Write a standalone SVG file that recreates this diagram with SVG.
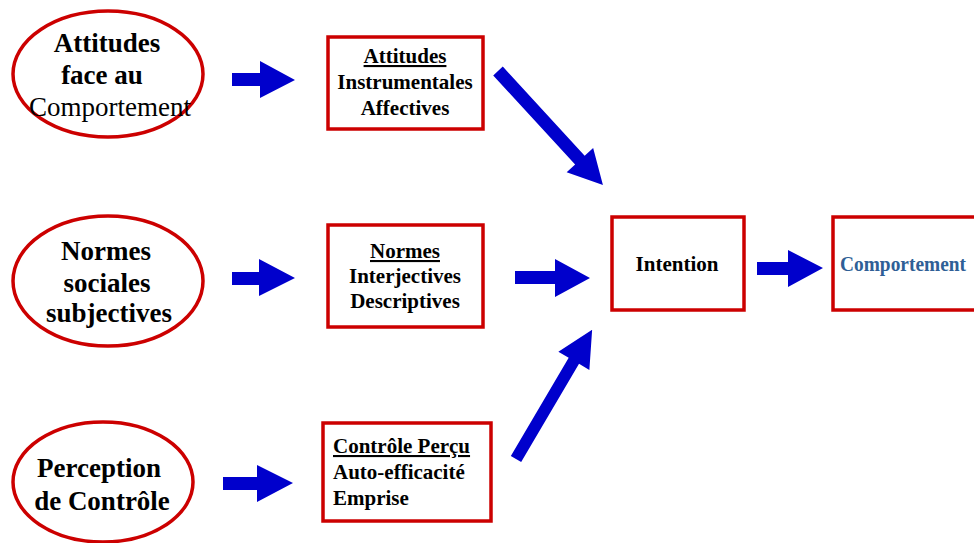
<svg xmlns="http://www.w3.org/2000/svg" width="974" height="543" viewBox="0 0 974 543">
  <style>
    .oval { fill: #ffffff; stroke: #cc0000; stroke-width: 3.5; }
    .box { fill: #ffffff; stroke: #cc0000; stroke-width: 3.5; }
    .big { font-family: "Liberation Serif", "Times New Roman", serif; font-size: 27px; font-weight: bold; fill: #000000; text-anchor: middle; }
    .plain { font-weight: normal; }
    .lbl { font-family: "Liberation Serif", "Times New Roman", serif; font-size: 21px; font-weight: bold; fill: #000000; }
    .mid { text-anchor: middle; }
    .ul { text-decoration: underline; }
    .blue { fill: #2f5f96; }
    .arrow { fill: #0000cc; }
  </style>

  <rect width="974" height="543" fill="#ffffff"/>

  <!-- Source ovals -->
  <g id="oval-attitudes">
    <ellipse class="oval" cx="108" cy="74" rx="95" ry="63"/>
    <text class="big" x="107" y="52">Attitudes</text>
    <text class="big" x="102" y="84">face au</text>
    <text class="big plain" x="110" y="116">Comportement</text>
  </g>

  <g id="oval-normes">
    <ellipse class="oval" cx="108" cy="281" rx="95" ry="65"/>
    <text class="big" x="106" y="260">Normes</text>
    <text class="big" x="107" y="292">sociales</text>
    <text class="big" x="109" y="322">subjectives</text>
  </g>

  <g id="oval-perception">
    <ellipse class="oval" cx="103" cy="482" rx="90" ry="60"/>
    <text class="big" x="99" y="477">Perception</text>
    <text class="big" x="102" y="510">de Contrôle</text>
  </g>

  <!-- Intermediate boxes -->
  <g id="box-attitudes">
    <rect class="box" x="328" y="37" width="155" height="92"/>
    <text class="lbl mid ul" x="405" y="63">Attitudes</text>
    <text class="lbl mid" x="405" y="89">Instrumentales</text>
    <text class="lbl mid" x="405" y="115">Affectives</text>
  </g>

  <g id="box-normes">
    <rect class="box" x="328" y="225" width="155" height="102"/>
    <text class="lbl mid ul" x="405" y="258">Normes</text>
    <text class="lbl mid" x="405" y="283">Interjectives</text>
    <text class="lbl mid" x="405" y="308">Descriptives</text>
  </g>

  <g id="box-controle">
    <rect class="box" x="323" y="423" width="168" height="98"/>
    <text class="lbl ul" x="333" y="453">Contrôle Perçu</text>
    <text class="lbl" x="333" y="479">Auto-efficacité</text>
    <text class="lbl" x="333" y="505">Emprise</text>
  </g>

  <g id="box-intention">
    <rect class="box" x="612" y="217" width="132" height="93"/>
    <text class="lbl mid" x="677" y="271">Intention</text>
  </g>

  <g id="box-comportement">
    <rect class="box" x="833" y="217" width="150" height="93"/>
    <text class="lbl blue" x="840" y="271" textLength="126" lengthAdjust="spacingAndGlyphs">Comportement</text>
  </g>

  <!-- Block arrows -->
  <g id="connectors">
    <polygon class="arrow" points="232,73 260,73 260,61 295,80 260,98 260,86 232,86"/>
    <polygon class="arrow" points="232,272 259,272 259,259 295,278 259,296 259,285 232,285"/>
    <polygon class="arrow" points="223,477 257,477 257,465 293,483 257,502 257,490 223,490"/>
    <polygon class="arrow" points="515,271 555,271 555,259 590,278 555,297 555,284 515,284"/>
    <polygon class="arrow" points="757,262 788,262 788,250 823,268 788,287 788,275 757,275"/>
    <polygon class="arrow" transform="translate(498,71) rotate(47.4)" points="0,-6.5 121,-6.5 121,-18 155,0 121,18 121,6.5 0,6.5"/>
    <polygon class="arrow" transform="translate(516,459) rotate(-59.5)" points="0,-6 114,-6 114,-18 150,0 114,18 114,6 0,6"/>
  </g>
</svg>
